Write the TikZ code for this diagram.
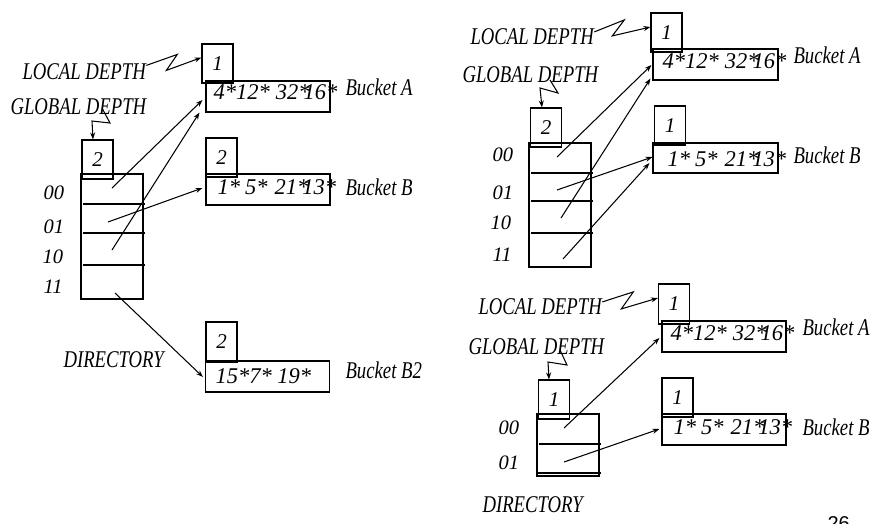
\documentclass[tikz,border=0pt]{standalone}
\usepackage{fontspec}
\setmainfont{Liberation Serif}
\newfontfamily\condfont{Liberation Serif}[FakeStretch=0.78]
\newfontfamily\pagenumfont{Liberation Sans}
\usetikzlibrary{arrows.meta}

% key lists as they sit in the buckets
\newcommand{\keysA}{4*12*\hspace{6pt}32*\kern-6pt 16*}
\newcommand{\keysB}{1*\hspace{5pt}5*\hspace{7pt}21*\kern-6pt 13*}

\begin{document}
\begin{tikzpicture}[x=1pt,y=-1pt,
  line width=1.05pt,
  every node/.style={inner sep=0pt},
  lbl/.style={font=\condfont\fontsize{24}{28}\selectfont\itshape, anchor=west},
  slot/.style={font=\fontsize{20.5}{24}\selectfont\itshape, anchor=west},
  keys/.style={font=\fontsize{22.5}{26}\selectfont\itshape, anchor=west},
  depthbox/.style={draw, minimum width=31pt, minimum height=39pt,
    font=\fontsize{21}{24}\selectfont\itshape},
  bucket/.style={draw, minimum width=124pt, minimum height=31pt},
  dirbox/.style={draw, minimum width=62pt},
  ptr/.style={-{Stealth[length=7pt,width=5pt]}},
]
\useasboundingbox (0,0) rectangle (873,523);

% ---------------- left: directory of depth 2 ----------------
\node[dirbox, minimum height=125pt] (dir1) at (112,236.5) {};
\draw (83,204) -- (145,204);
\draw (83,233) -- (145,233);
\draw (83,265) -- (145,265);
\node[depthbox] (gb1) at (97.5,159.5) {2};

\node[slot] (s1a) at (43,193) {00};
\node[slot] (s1b) at (43,227) {01};
\node[slot] (s1c) at (42,257) {10};
\node[slot] (s1d) at (43,287) {11};
\node[lbl] (dirl1) at (63,360) {DIRECTORY};
\node[lbl] (ld1) at (22,72) {LOCAL DEPTH};
\node[lbl] (gd1) at (10,107) {GLOBAL DEPTH};

\node[depthbox] (la1) at (217.5,63.5) {1};
\node[bucket] (ba1) at (268,96.5) {};
\node[keys] (ka1) at (213,92) {\keysA};
\node[lbl] (ta1) at (345,87) {Bucket A};

\node[depthbox] (lb1) at (221.5,157.5) {2};
\node[bucket] (bb1) at (268,189.5) {};
\node[keys] (kb1) at (217,187) {\keysB};
\node[lbl] (tb1) at (345,187) {Bucket B};

\node[depthbox, minimum height=40pt] (lc1) at (221.5,342) {2};
\node[bucket] (bc1) at (267.5,376.5) {};
\node[keys] (kc1) at (215,376) {15*7* 19*};
\node[lbl] (tc1) at (345,370) {Bucket B2};

\coordinate (p1a) at (112,188);
\coordinate (p1b) at (108,222);
\coordinate (p1c) at (112,250);
\coordinate (p1d) at (115,293);
\draw[ptr] (p1a) -- ([shift={(-3,3.5)}]ba1.west);
\draw[ptr] (p1c) -- ([shift={(-6,0)}]ba1.south west);
\draw[ptr] (p1b) -- ([shift={(-3,-1.5)}]bb1.west);
\draw[ptr] (p1d) -- ([shift={(-2,0.5)}]bc1.west);

\draw[ptr] ([yshift=-2pt]ld1.north east) -- ++(31,-11) -- ++(-11,16) -- ([yshift=6pt]la1.west);
\coordinate (g1s) at (102,108);
\draw[ptr] (g1s) -- ++(8,15) -- ++(-18,-2) -- ([xshift=-4.5pt]gb1.north);

% ---------------- right top: directory of depth 2 ----------------
\node[dirbox, minimum height=124pt] (dir2) at (560,205) {};
\draw (531,173) -- (593,173);
\draw (531,201) -- (593,201);
\draw (531,233) -- (593,233);
\node[depthbox] (gb2) at (546,127.5) {2};

\node[slot] (s2a) at (492,155) {00};
\node[slot] (s2b) at (492,193) {01};
\node[slot] (s2c) at (490,223) {10};
\node[slot] (s2d) at (492,255) {11};
\node[lbl] (ld2) at (470,37) {LOCAL DEPTH};
\node[lbl] (gd2) at (462,75) {GLOBAL DEPTH};

\node[depthbox] (la2) at (666.5,32.5) {1};
\node[bucket, minimum width=125pt] (ba2) at (715.5,64.5) {};
\node[keys] (ka2) at (662,61) {\keysA};
\node[lbl] (ta2) at (793,55) {Bucket A};

\node[depthbox] (lb2) at (670,125.5) {1};
\node[bucket, minimum width=125pt, minimum height=30pt] (bb2) at (715.5,158) {};
\node[keys] (kb2) at (667,159) {\keysB};
\node[lbl] (tb2) at (793,155) {Bucket B};

\coordinate (p2a) at (557,157);
\coordinate (p2b) at (557,190);
\coordinate (p2c) at (561,218);
\coordinate (p2d) at (563,259);
\draw[ptr] (p2a) -- ([shift={(-1,0.5)}]ba2.west);
\draw[ptr] (p2c) -- ([shift={(-2,-2)}]ba2.south west);
\draw[ptr] (p2b) -- ([shift={(0,-1)}]bb2.west);
\draw[ptr] (p2d) -- ([shift={(-3,5)}]bb2.west);

\draw[ptr] ([yshift=-3.5pt]ld2.north east) -- ++(30,-12) -- ++(-12,16) -- ([yshift=5.5pt]la2.west);
\coordinate (g2s) at (550,80);
\draw[ptr] (g2s) -- ++(8,13) -- ++(-18,-5) -- ([xshift=-4pt]gb2.north);

% ---------------- right bottom: directory of depth 1 ----------------
\node[dirbox, minimum height=62pt] (dir3) at (568,445) {};
\draw (539,444) -- (601,444);
\draw (537,473) -- (601,473);
\node[depthbox] (gb3) at (554,399.5) {1};

\node[slot] (s3a) at (498,428) {00};
\node[slot] (s3b) at (498,463) {01};
\node[lbl] (dirl3) at (482,505) {DIRECTORY};
\node[lbl] (ld3) at (478,307) {LOCAL DEPTH};
\node[lbl] (gd3) at (468,347) {GLOBAL DEPTH};

\node[depthbox, minimum height=40pt] (la3) at (674,304) {1};
\node[bucket] (ba3) at (724,336.5) {};
\node[keys] (ka3) at (670,333) {\keysA};
\node[lbl] (ta3) at (802,327) {Bucket A};

\node[depthbox] (lb3) at (677.5,397.5) {1};
\node[bucket] (bb3) at (724,429.5) {};
\node[keys] (kb3) at (673,427) {\keysB};
\node[lbl] (tb3) at (802,427) {Bucket B};

\coordinate (p3a) at (564,428);
\coordinate (p3b) at (564,462);
\draw[ptr] (p3a) -- ([shift={(-2,1.5)}]ba3.west);
\draw[ptr] (p3b) -- ([shift={(-2,-0.5)}]bb3.west);

\draw[ptr] ([yshift=-3.5pt]ld3.north east) -- ++(31,-10) -- ++(-12,17) -- ([yshift=6pt]la3.west);
\coordinate (g3s) at (560,350);
\draw[ptr] (g3s) -- ++(7,15) -- ++(-19,-3) -- ([xshift=-5pt]gb3.north);

% page number
\node[font=\pagenumfont\fontsize{20}{24}\selectfont, anchor=north west] (pg) at (827,516) {26};
\end{tikzpicture}
\end{document}
